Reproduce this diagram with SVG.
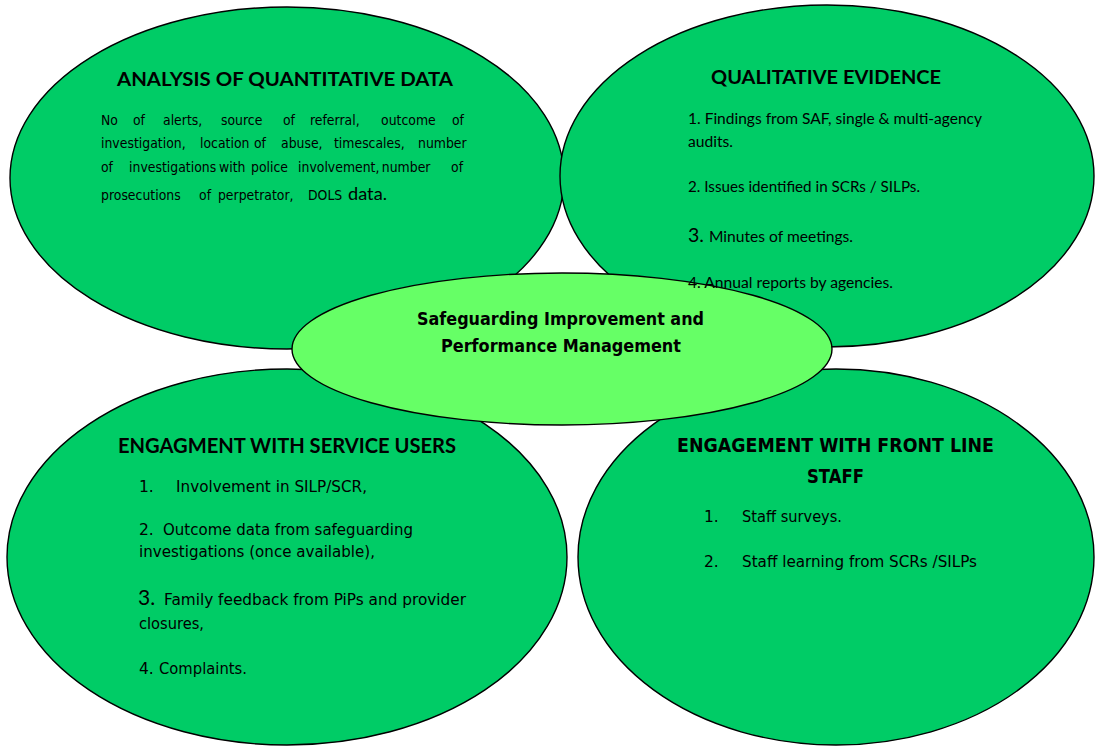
<svg xmlns="http://www.w3.org/2000/svg" width="1095" height="751" viewBox="0 0 1095 751">
<style>
.outer{fill:#00CC66;stroke:#000;stroke-width:1.4}
.center{fill:#66FF66;stroke:#000;stroke-width:1.4}
.cal{font-family:Lato,"Liberation Sans",sans-serif;fill:#000}
.calb{font-family:Lato,"Liberation Sans",sans-serif;font-weight:bold;fill:#000}
.tah{font-family:"DejaVu Sans","Liberation Sans",sans-serif;fill:#000;font-size:15.5px}
.tahs{font-family:"DejaVu Sans","Liberation Sans",sans-serif;fill:#000;font-size:14.5px}
.tahb{font-family:"DejaVu Sans","Liberation Sans",sans-serif;font-weight:bold;fill:#000}
</style>
<rect width="1095" height="751" fill="#fff"/>
<g id="connectors"/>
<g id="node-quantitative">
<ellipse class="outer" cx="287" cy="178" rx="277" ry="171"/>
<text class="calb" x="117" y="86" font-size="19.5" textLength="336" lengthAdjust="spacingAndGlyphs">ANALYSIS OF QUANTITATIVE DATA</text>
<g transform="translate(101,0) scale(0.86,1) translate(-101,0)">
<text class="tahs" y="125"><tspan x="101">No</tspan><tspan x="138.2">of</tspan><tspan x="173.1">alerts,</tspan><tspan x="240.5">source</tspan><tspan x="312.6">of</tspan><tspan x="344">referral,</tspan><tspan x="426.6">outcome</tspan><tspan x="509.1">of</tspan></text>
<text class="tahs" y="148"><tspan x="101">investigation,</tspan><tspan x="216.1">location</tspan><tspan x="278.9">of</tspan><tspan x="310.3">abuse,</tspan><tspan x="371.9">timescales,</tspan><tspan x="469.6">number</tspan></text>
<text class="tahs" y="172" font-size="14"><tspan x="101">of</tspan><tspan x="133.6">investigations</tspan><tspan x="238.2">with</tspan><tspan x="275.4">police</tspan><tspan x="330.1">involvement,</tspan><tspan x="427.5">number</tspan><tspan x="508">of</tspan></text>
<text class="tahs" y="200"><tspan x="101">prosecutions</tspan><tspan x="215">of</tspan><tspan x="237">perpetrator,</tspan><tspan x="341.7">DOLS</tspan></text>
</g>
<text class="cal" x="348" y="200" font-size="17.5" textLength="39" lengthAdjust="spacingAndGlyphs">data.</text>
</g>
<g id="node-qualitative">
<ellipse class="outer" cx="827" cy="176" rx="267" ry="171"/>
</g>
<g id="node-service-users">
<ellipse class="outer" cx="287" cy="557" rx="280" ry="188"/>
<text class="calb" x="118" y="453" font-size="20" textLength="338" lengthAdjust="spacingAndGlyphs">ENGAGMENT WITH SERVICE USERS</text>
<text class="tah" x="139" y="492">1.</text>
<text class="tah" x="176" y="492" textLength="191" lengthAdjust="spacingAndGlyphs">Involvement in SILP/SCR,</text>
<text class="tah" x="139" y="535">2.</text>
<text class="tah" x="163" y="535" textLength="250" lengthAdjust="spacingAndGlyphs">Outcome data from safeguarding</text>
<text class="tah" x="139" y="557" textLength="236" lengthAdjust="spacingAndGlyphs">investigations (once available),</text>
<text class="cal" x="138" y="605" font-size="21">3.</text>
<text class="tah" x="164" y="605" textLength="302" lengthAdjust="spacingAndGlyphs">Family feedback from PiPs and provider</text>
<text class="tah" x="139" y="629" textLength="65" lengthAdjust="spacingAndGlyphs">closures,</text>
<text class="tah" x="139" y="674">4.</text>
<text class="tah" x="159" y="674" textLength="88" lengthAdjust="spacingAndGlyphs">Complaints.</text>
</g>
<g id="node-front-line">
<ellipse class="outer" cx="836" cy="557" rx="258" ry="188"/>
<text class="tahb" x="677" y="452" font-size="19" textLength="317" lengthAdjust="spacingAndGlyphs">ENGAGEMENT WITH FRONT LINE</text>
<text class="tahb" x="807" y="483" font-size="19" textLength="57" lengthAdjust="spacingAndGlyphs">STAFF</text>
<text class="tah" x="704" y="522">1.</text>
<text class="tah" x="742" y="522" textLength="100" lengthAdjust="spacingAndGlyphs">Staff surveys.</text>
<text class="tah" x="704" y="567">2.</text>
<text class="tah" x="742" y="567" textLength="235" lengthAdjust="spacingAndGlyphs">Staff learning from SCRs /SILPs</text>
</g>
<g id="node-center">
<ellipse class="center" cx="562" cy="349" rx="270" ry="76"/>
<text class="tahb" x="417" y="325" font-size="18" textLength="287" lengthAdjust="spacingAndGlyphs">Safeguarding Improvement and</text>
<text class="tahb" x="441" y="352" font-size="18" textLength="240" lengthAdjust="spacingAndGlyphs">Performance Management</text>
</g>
<g id="node-qualitative-text">
<text class="calb" x="711" y="84" font-size="19.5" textLength="230" lengthAdjust="spacingAndGlyphs">QUALITATIVE EVIDENCE</text>
<text class="cal" x="688" y="124" font-size="15.5" textLength="294" lengthAdjust="spacingAndGlyphs">1. Findings from SAF, single &amp; multi-agency</text>
<text class="cal" x="688" y="147" font-size="15.5" textLength="45" lengthAdjust="spacingAndGlyphs">audits.</text>
<text class="cal" x="688" y="192" font-size="15.5" textLength="232" lengthAdjust="spacingAndGlyphs">2. Issues identified in SCRs / SILPs.</text>
<text class="cal" x="688" y="242" font-size="19.5">3.</text>
<text class="cal" x="709" y="242" font-size="15.5" textLength="144" lengthAdjust="spacingAndGlyphs">Minutes of meetings.</text>
<text class="cal" x="688" y="288" font-size="15.5" textLength="205" lengthAdjust="spacingAndGlyphs">4. Annual reports by agencies.</text>
</g>
</svg>
